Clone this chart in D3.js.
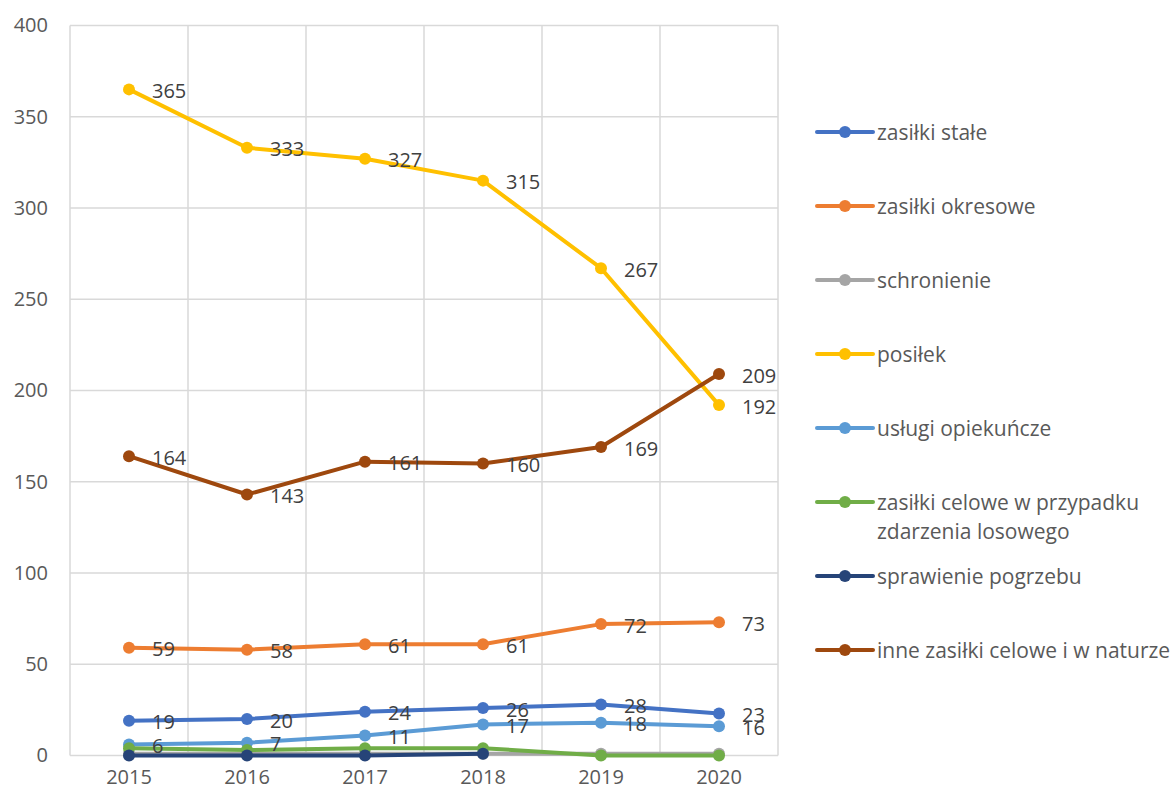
<!DOCTYPE html>
<html>
<head>
<meta charset="utf-8">
<script src="https://cdn.jsdelivr.net/npm/d3@7"></script>
<style>
  body { margin: 0; background: #fff; }
  text { font-family: "Open Sans", sans-serif; }
</style>
</head>
<body>
<div id="chart"></div>
<script>
// data
var years = ["2015", "2016", "2017", "2018", "2019", "2020"];
// "\n" marks where the legend wraps the name
var seriesNames = ["zasiłki stałe", "zasiłki okresowe", "schronienie", "posiłek",
  "usługi opiekuńcze", "zasiłki celowe w przypadku\nzdarzenia losowego",
  "sprawienie pogrzebu", "inne zasiłki celowe i w naturze"];
var stale = [19, 20, 24, 26, 28, 23];
var okresowe = [59, 58, 61, 61, 72, 73];
var schronienie = [1, 1, 1, 1, 1, 1];
var posilek = [365, 333, 327, 315, 267, 192];
var uslugi = [6, 7, 11, 17, 18, 16];
var losowe = [4, 3, 4, 4, 0, 0];
var pogrzeb = [0, 0, 0, 1, null, null];
var inne = [164, 143, 161, 160, 169, 209];
var seriesValues = [stale, okresowe, schronienie, posilek, uslugi, losowe, pogrzeb, inne];
var showLabels = [true, true, false, true, true, false, false, true];
var yTicks = [0, 50, 100, 150, 200, 250, 300, 350, 400];

var colors = ["#4472C4", "#ED7D31", "#A5A5A5", "#FFC000", "#5B9BD5", "#70AD47", "#264478", "#9E480E"];

// svg
var svgWidth = 1173;
var svgHeight = 796;
var margin = { top: 25.5, left: 70, right: 395, bottom: 40.5 };
var width = svgWidth - margin.left - margin.right;
var height = svgHeight - margin.top - margin.bottom;

var svg = d3.select("#chart")
  .append("svg")
  .attr("width", svgWidth)
  .attr("height", svgHeight);

var chartGroup = svg.append("g")
  .attr("transform", `translate(${margin.left}, ${margin.top})`);

// scales
var xBand = d3.scaleBand().domain(years).range([0, width]);
var yScale = d3.scaleLinear().domain([0, 400]).range([height, 0]);
var xPos = d => xBand(d) + xBand.bandwidth() / 2;

// gridlines
chartGroup.append("g")
  .selectAll("line")
  .data(yTicks)
  .enter()
  .append("line")
  .attr("x1", 0).attr("x2", width)
  .attr("y1", d => yScale(d)).attr("y2", d => yScale(d))
  .attr("stroke", "#d9d9d9").attr("stroke-width", 1.5);

var vLines = years.map(d => xBand(d)).concat([width]);
chartGroup.append("g")
  .selectAll("line")
  .data(vLines)
  .enter()
  .append("line")
  .attr("x1", d => d).attr("x2", d => d)
  .attr("y1", 0).attr("y2", height)
  .attr("stroke", "#d9d9d9").attr("stroke-width", 1.5);

// axes
var leftAxis = d3.axisLeft(yScale).tickValues(yTicks).tickSize(0).tickPadding(22);
var yAxisG = chartGroup.append("g").call(leftAxis);
yAxisG.select(".domain").remove();
yAxisG.selectAll("text")
  .style("font-family", "Open Sans")
  .style("font-size", "20px")
  .attr("fill", "#595959");

var bottomAxis = d3.axisBottom(xBand).tickSize(0).tickPadding(14);
var xAxisG = chartGroup.append("g")
  .attr("transform", `translate(0, ${height})`)
  .call(bottomAxis);
xAxisG.select(".domain").remove();
xAxisG.selectAll("text")
  .style("font-family", "Open Sans")
  .style("font-size", "20px")
  .attr("fill", "#595959");

// lines + markers
var line = d3.line()
  .defined(d => d.v !== null)
  .x(d => xPos(d.year))
  .y(d => yScale(d.v));

seriesValues.forEach(function(vals, i) {
  var pts = vals.map((v, j) => ({ year: years[j], v: v }));
  var g = chartGroup.append("g");
  g.append("path")
    .datum(pts)
    .attr("d", line)
    .attr("fill", "none")
    .attr("stroke", colors[i])
    .attr("stroke-width", 4)
    .attr("stroke-linejoin", "round");
  g.selectAll("circle")
    .data(pts.filter(d => d.v !== null))
    .enter()
    .append("circle")
    .attr("cx", d => xPos(d.year))
    .attr("cy", d => yScale(d.v))
    .attr("r", 6)
    .attr("fill", colors[i]);
});

// data labels
seriesValues.forEach(function(vals, i) {
  if (!showLabels[i]) return;
  chartGroup.append("g")
    .selectAll("text")
    .data(vals.map((v, j) => ({ year: years[j], v: v })).filter(d => d.v !== null))
    .enter()
    .append("text")
    .attr("x", d => xPos(d.year) + 23)
    .attr("y", d => yScale(d.v) + 1)
    .attr("dominant-baseline", "central")
    .style("font-size", "20px")
    .attr("fill", "#404040")
    .text(d => d.v);
});

// legend
var legend = svg.append("g");
seriesNames.forEach(function(name, i) {
  var y = 132 + i * 74;
  var item = legend.append("g");
  item.append("line")
    .attr("x1", 817).attr("x2", 873)
    .attr("y1", y).attr("y2", y)
    .attr("stroke", colors[i]).attr("stroke-width", 4)
    .attr("stroke-linecap", "round");
  item.append("circle")
    .attr("cx", 845).attr("cy", y).attr("r", 6)
    .attr("fill", colors[i]);
  var txt = item.append("text")
    .attr("x", 877)
    .attr("y", y)
    .attr("dominant-baseline", "central")
    .style("font-size", "21px")
    .attr("fill", "#595959");
  name.split("\n").forEach(function(part, k) {
    txt.append("tspan")
      .attr("x", 877)
      .attr("dy", k === 0 ? 0 : 29)
      .text(part);
  });
});
</script>
</body>
</html>
